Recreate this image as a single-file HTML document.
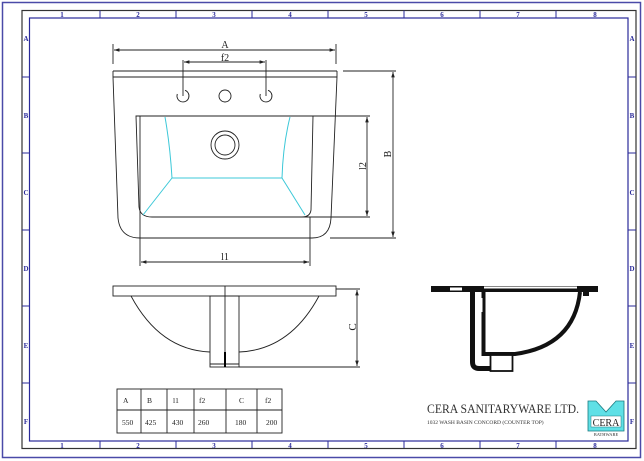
<!DOCTYPE html>
<html><head><meta charset="utf-8"><style>
html,body{margin:0;padding:0;background:#fff}
svg{display:block}
text{font-family:"Liberation Serif",serif}
</style></head><body>
<svg width="644" height="461" viewBox="0 0 644 461" xmlns="http://www.w3.org/2000/svg">
<rect x="2.5" y="2.5" width="638" height="455" fill="none" stroke="#4a4aa8" stroke-width="1.5"/>
<rect x="22" y="10.5" width="614" height="438" fill="none" stroke="#333" stroke-width="1.2"/>
<rect x="29.5" y="18" width="598.5" height="423" fill="none" stroke="#2a2a9a" stroke-width="1.2"/>
<g stroke="#2a2a9a" stroke-width="1">
<line x1="100" y1="10.5" x2="100" y2="18"/><line x1="176" y1="10.5" x2="176" y2="18"/><line x1="252" y1="10.5" x2="252" y2="18"/><line x1="328" y1="10.5" x2="328" y2="18"/><line x1="404" y1="10.5" x2="404" y2="18"/><line x1="480" y1="10.5" x2="480" y2="18"/><line x1="556" y1="10.5" x2="556" y2="18"/>
<line x1="100" y1="441" x2="100" y2="448"/><line x1="176" y1="441" x2="176" y2="448"/><line x1="252" y1="441" x2="252" y2="448"/><line x1="328" y1="441" x2="328" y2="448"/><line x1="404" y1="441" x2="404" y2="448"/><line x1="480" y1="441" x2="480" y2="448"/><line x1="556" y1="441" x2="556" y2="448"/>
<line x1="22" y1="77" x2="29.5" y2="77"/><line x1="22" y1="153" x2="29.5" y2="153"/><line x1="22" y1="230" x2="29.5" y2="230"/><line x1="22" y1="306" x2="29.5" y2="306"/><line x1="22" y1="383" x2="29.5" y2="383"/>
<line x1="628" y1="77" x2="636" y2="77"/><line x1="628" y1="153" x2="636" y2="153"/><line x1="628" y1="230" x2="636" y2="230"/><line x1="628" y1="306" x2="636" y2="306"/><line x1="628" y1="383" x2="636" y2="383"/>
</g>
<g fill="#2a2a9a" font-family="Liberation Sans" font-size="7" font-weight="bold" text-anchor="middle">
<text x="62" y="17">1</text><text x="138" y="17">2</text><text x="214" y="17">3</text><text x="290" y="17">4</text><text x="366" y="17">5</text><text x="442" y="17">6</text><text x="518" y="17">7</text><text x="595" y="17">8</text>
<text x="62" y="448">1</text><text x="138" y="448">2</text><text x="214" y="448">3</text><text x="290" y="448">4</text><text x="366" y="448">5</text><text x="442" y="448">6</text><text x="518" y="448">7</text><text x="595" y="448">8</text>
<text x="26" y="41">A</text><text x="26" y="118">B</text><text x="26" y="195">C</text><text x="26" y="271">D</text><text x="26" y="348">E</text><text x="26" y="424">F</text>
<text x="632" y="41">A</text><text x="632" y="118">B</text><text x="632" y="195">C</text><text x="632" y="271">D</text><text x="632" y="348">E</text><text x="632" y="424">F</text>
</g>
<defs><marker id="ar" markerWidth="6" markerHeight="4" refX="6" refY="2" orient="auto-start-reverse"><path d="M0,0 L6,2 L0,4z" fill="#222"/></marker></defs>
<g fill="none" stroke="#222" stroke-width="0.9">
<line x1="113" y1="44" x2="113" y2="64"/><line x1="336" y1="44" x2="336" y2="64"/>
<line x1="114" y1="50" x2="335" y2="50" marker-start="url(#ar)" marker-end="url(#ar)"/>
<line x1="183" y1="60" x2="183" y2="96"/><line x1="266" y1="60" x2="266" y2="96"/>
<line x1="184" y1="62" x2="265" y2="62" marker-start="url(#ar)" marker-end="url(#ar)"/>
<line x1="113" y1="71" x2="337" y2="71"/><line x1="113" y1="77" x2="337" y2="77"/>
<path d="M113,71 L113,77 L118,218 Q120,238 140,238 L312,238 Q330,238 331,218 L337,77 L337,71"/>
<path d="M136,116 L313,116 L311,210 Q310,217 302,217 L152,217 Q140,217 139,207 Z"/>
<path d="M185,90.3 A6,6 0 1 1 177.3,94"/><path d="M268,90.3 A6,6 0 1 1 260.3,94"/>
<circle cx="225" cy="96" r="6"/>
<circle cx="225" cy="145" r="14"/><circle cx="225" cy="145" r="10"/>
<line x1="140" y1="116" x2="140" y2="266"/><line x1="310" y1="217" x2="310" y2="266"/>
<line x1="141" y1="262" x2="309" y2="262" marker-start="url(#ar)" marker-end="url(#ar)"/>
<line x1="313" y1="116" x2="370" y2="116"/><line x1="302" y1="217" x2="370" y2="217"/>
<line x1="367" y1="117" x2="367" y2="216" marker-start="url(#ar)" marker-end="url(#ar)"/>
<line x1="343" y1="71" x2="396" y2="71"/><line x1="330" y1="238" x2="396" y2="238"/>
<line x1="393" y1="72" x2="393" y2="237" marker-start="url(#ar)" marker-end="url(#ar)"/>
</g>
<g fill="none" stroke="#3cc8d8" stroke-width="1">
<path d="M165,117 Q170,145 172,178 L282,178 Q283,145 290,117"/>
<line x1="172" y1="178" x2="143" y2="215"/><line x1="282" y1="178" x2="305" y2="215"/>
</g>
<g fill="#222" font-size="10" text-anchor="middle">
<text x="225" y="48">A</text><text x="225" y="61">f2</text><text x="225" y="260">l1</text>
<text transform="translate(366,166) rotate(-90)">l2</text>
<text transform="translate(391,154) rotate(-90)">B</text>
<text transform="translate(356,327) rotate(-90)" font-size="11">C</text>
</g>
<g fill="none" stroke="#222" stroke-width="0.9">
<rect x="113" y="286" width="223" height="10"/>
<path d="M131,296 Q160,350 210,352"/><path d="M319,296 Q290,350 239,352"/>
<rect x="210" y="296" width="29" height="71"/>
<line x1="225" y1="286" x2="225" y2="367"/>
<line x1="210" y1="364" x2="239" y2="364"/>
<line x1="239" y1="367" x2="360" y2="367"/><line x1="336" y1="289" x2="360" y2="289"/>
<line x1="357" y1="290" x2="357" y2="366" marker-start="url(#ar)" marker-end="url(#ar)"/>
</g>
<line x1="225" y1="352" x2="225" y2="367" stroke="#000" stroke-width="2"/>
<g fill="none" stroke="#222" stroke-width="0.9">
<rect x="117" y="389" width="165" height="44"/>
<line x1="117" y1="410" x2="282" y2="410"/>
<line x1="141" y1="389" x2="141" y2="433"/><line x1="167" y1="389" x2="167" y2="433"/><line x1="194" y1="389" x2="194" y2="433"/><line x1="226" y1="389" x2="226" y2="433"/><line x1="257" y1="389" x2="257" y2="433"/>
</g>
<g fill="#222" font-size="7.5">
<text x="123" y="403">A</text><text x="147" y="403">B</text><text x="173" y="403">l1</text><text x="199" y="403">f2</text><text x="239" y="403">C</text><text x="265" y="403">f2</text>
<text x="122" y="425">550</text><text x="145" y="425">425</text><text x="172" y="425">430</text><text x="198" y="425">260</text><text x="235" y="425">180</text><text x="266" y="425">200</text>
</g>
<!-- section view -->
<rect x="431" y="286" width="167" height="6" fill="#111"/>
<rect x="450" y="287.5" width="12" height="3" fill="#fff"/>
<rect x="484" y="286.5" width="93" height="2" fill="#fff"/>
<g fill="none" stroke="#111">
<path d="M472.5,292 L472.5,362 Q472.5,368.5 479,368.5 L491,368.5" stroke-width="5"/>
<path d="M483.5,292 L483.5,354 L515,354 Q574,346 580,292" stroke-width="4"/>
<line x1="586" y1="292" x2="586" y2="296" stroke-width="6"/>
<rect x="490.5" y="355" width="22" height="16" stroke-width="1.8" fill="#fff"/>
</g>
<rect x="481" y="298" width="1.5" height="14" fill="#fff"/>
<text x="427" y="413" font-size="12.5" fill="#333" textLength="152" lengthAdjust="spacingAndGlyphs">CERA  SANITARYWARE  LTD.</text>
<text x="427" y="424" font-size="5.5" fill="#333">1032 WASH BASIN CONCORD (COUNTER TOP)</text>
<path d="M588,401 L596,401 L606,412 L616,401 L624,401 L624,431 L588,431 Z" fill="#5fe0e6" stroke="#1a7a80" stroke-width="0.8"/>
<rect x="591" y="416" width="30" height="11" fill="#fff" stroke="#1a7a80" stroke-width="0.5"/>
<text x="606" y="426" font-size="10" text-anchor="middle" fill="#222">CERA</text>
<text x="606" y="436" font-size="4.5" text-anchor="middle" fill="#333">BATHWARE</text>
</svg>
</body></html>
